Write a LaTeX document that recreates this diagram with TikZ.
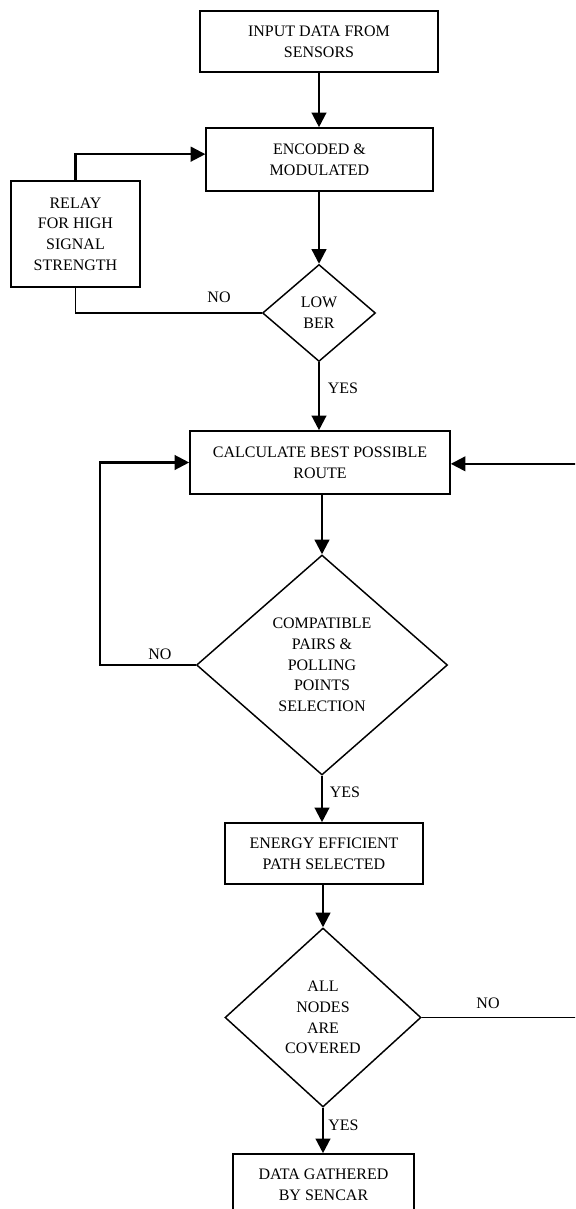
\documentclass[tikz,border=0pt]{standalone}
\usepackage{fontspec}
\setmainfont{Liberation Serif}
\usetikzlibrary{shapes.geometric,arrows.meta}
\begin{document}
\begin{tikzpicture}[x=0.75pt,y=-0.75pt,
  txt/.style={font=\fontsize{12}{15.5}\selectfont,align=center},
  procbox/.style={txt,draw,line width=1.2pt,rectangle,inner sep=0pt},
  decision/.style={txt,draw,line width=1.1pt,diamond,inner sep=0pt},
  flow/.style={line width=1.7pt,-{Triangle[length=11pt,width=11pt]}},
  link/.style={line width=1.1pt},
  lbl/.style={font=\fontsize{12}{14}\selectfont,inner sep=0pt}]
\fill[white] (0,0) rectangle (575,1209);
\clip (0,0) rectangle (575,1209);

% process boxes
\node[procbox,minimum width=178.5pt,minimum height=45.75pt] (input) at (319,41.5) {INPUT DATA FROM\\SENSORS};
\node[procbox,minimum width=170pt,minimum height=47.25pt] (encode) at (319.5,159.5) {ENCODED \&\\MODULATED};
\node[procbox,minimum width=96.75pt,minimum height=79.5pt] (relay) at (75.5,234) {RELAY\\FOR HIGH\\SIGNAL\\STRENGTH};
\node[procbox,minimum width=195pt,minimum height=47.25pt] (route) at (320,462.5) {CALCULATE BEST POSSIBLE\\ROUTE};
\node[procbox,minimum width=148.5pt,minimum height=45.75pt] (energy) at (324,853.5) {ENERGY EFFICIENT\\PATH SELECTED};
\node[procbox,minimum width=135.75pt,minimum height=45.75pt] (gather) at (323.5,1184.5) {DATA GATHERED\\BY SENCAR};

% decisions
\node[decision,minimum width=84.75pt,minimum height=72.75pt] (ber) at (319,313) {LOW\\BER};
\node[decision,minimum width=188.25pt,minimum height=165pt] (pairs) at (322,665) {COMPATIBLE\\PAIRS \&\\POLLING\\POINTS\\SELECTION};
\node[decision,minimum width=147pt,minimum height=134.25pt] (cover) at (323,1017.5) {ALL\\NODES\\ARE\\COVERED};

% main flow
\draw[flow] (input.south) -- (input.south |- encode.north);
\draw[flow] (encode.south -| ber.north) -- (ber.north);
\draw[flow] (ber.south) -- (ber.south |- route.north);
\draw[flow] (route.south -| pairs.north) -- (pairs.north);
\draw[flow] (pairs.south) -- (pairs.south |- energy.north);
\draw[flow] (energy.south -| cover.north) -- (cover.north);
\draw[flow] (cover.south) -- (cover.south |- gather.north);

% relay loop
\coordinate (berturn) at (relay.south |- ber.west);
\draw[link] (ber.west) -- (berturn) -- (relay.south);
\draw[flow] (relay.north) |- ([yshift=4pt]encode.west);

% route loops
\coordinate (pairsturn) at (100,665);
\draw[flow] (pairs.west) -- (pairsturn) |- (route.west);
\coordinate (coverturn) at (582,1017.5);
\draw[link] (cover.east) -- (coverturn);
\draw[flow] (coverturn) |- ([yshift=-1pt]route.east);

% branch labels
\node[lbl] (no1) at (219,297) {NO};
\node[lbl] (yes1) at (343,388) {YES};
\node[lbl] (no2) at (160,654) {NO};
\node[lbl] (yes2) at (345,792) {YES};
\node[lbl] (no3) at (488,1003) {NO};
\node[lbl] (yes3) at (343.5,1125) {YES};
\end{tikzpicture}
\end{document}
